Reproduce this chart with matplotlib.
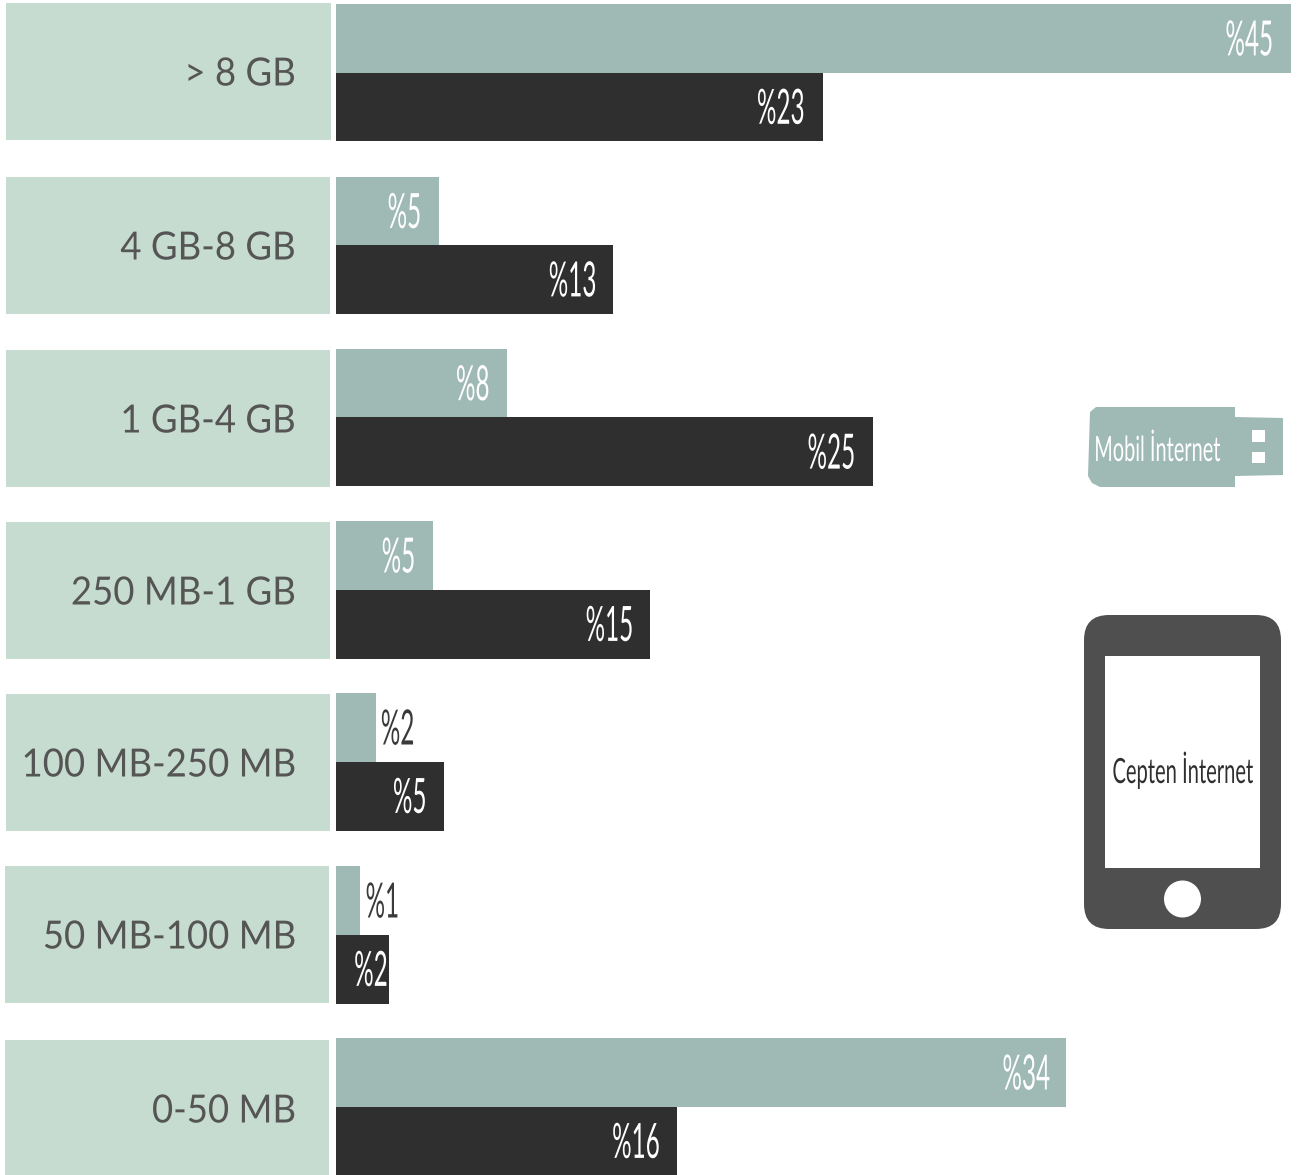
import matplotlib
matplotlib.use("Agg")
import matplotlib.pyplot as plt
from matplotlib.patches import Circle, FancyBboxPatch, Polygon, Rectangle
from matplotlib.patheffects import AbstractPathEffect
from matplotlib.transforms import Affine2D

# values
categories = ["> 8 GB", "4 GB-8 GB", "1 GB-4 GB", "250 MB-1 GB",
              "100 MB-250 MB", "50 MB-100 MB", "0-50 MB"]
mobil_values = [45.0, 4.85, 8.05, 4.57, 1.87, 1.13, 34.4]
cepten_values = [22.95, 13.05, 25.3, 14.8, 5.1, 2.5, 16.07]
mobil_labels = ["%45", "%5", "%8", "%5", "%2", "%1", "%34"]
cepten_labels = ["%23", "%13", "%25", "%15", "%5", "%2", "%16"]

LIGHT = "#C7DCD1"
MID = "#9FB9B4"
DARK = "#2F2F2F"
GREY = "#555555"
PHONE = "#4F4F4F"

W, H = 1302, 1175
BAR_LEFT = 336
PX_PER_UNIT = 21.22
ROW_TOPS = [4.2, 176.8, 349, 521.3, 693.3, 866.3, 1038.3]
BOX_TOPS = [3, 177, 350, 522, 694, 866, 1040]
BOX_LEFT = [6, 6, 6, 6, 6, 5, 5]
BOX_RIGHT = [331, 330, 330, 330, 330, 329, 329]
BAR_H = 68.4
MOBIL_PAD = [-16, -16, -16, -16, 40, 41, -15]
CEPTEN_PAD = [-17, -15, -16, -15, -16, 0, -16]


class Narrow(AbstractPathEffect):
    """Squeezes text sideways, keeping its right or centre edge in place."""

    def __init__(self, sx, anchor="right"):
        super().__init__()
        self.sx = sx
        self.anchor = anchor

    def draw_path(self, renderer, gc, tpath, affine, rgbFace=None):
        box = tpath.get_extents()
        x0 = box.x1 if self.anchor == "right" else (box.x0 + box.x1) / 2
        squeeze = Affine2D().translate(-x0, 0).scale(self.sx, 1).translate(x0, 0)
        renderer.draw_path(gc, tpath, squeeze + affine, rgbFace)


fig = plt.figure(figsize=(W / 100, H / 100), dpi=100)
plt.rcParams["font.family"] = ["Lato", "DejaVu Sans"]

# background axes in pixels, for label boxes and the two icons
bg = fig.add_axes([0, 0, 1, 1])
bg.set_xlim(0, W)
bg.set_ylim(H, 0)
bg.axis("off")

for name, top, left, right in zip(categories, BOX_TOPS, BOX_LEFT, BOX_RIGHT):
    bg.add_patch(Rectangle((left, top), right - left, 137, fc=LIGHT, ec="none"))
    bg.text(296, top + 71.5, name, ha="right", va="center", color=GREY, fontsize=28,
            path_effects=[Narrow(0.94)])

# bars
ax = fig.add_axes([BAR_LEFT / W, 0, 1 - BAR_LEFT / W, 1])
ax.patch.set_alpha(0)
ax.set_xlim(0, (W - BAR_LEFT) / PX_PER_UNIT)
ax.set_ylim(H, 0)
ax.axis("off")

mobil_tops = ROW_TOPS
cepten_tops = [t + BAR_H for t in ROW_TOPS]
ax.barh(mobil_tops, mobil_values, height=BAR_H, align="edge", color=MID)
ax.barh(cepten_tops, cepten_values, height=BAR_H + 0.5, align="edge", color=DARK)


def value_label(value, top, label, pad):
    # outside labels sit on white, so they turn dark
    color = "#3A3A3A" if pad > 0 else "white"
    ax.annotate(label, xy=(value, top + BAR_H / 2 + 3), xytext=(pad, 0),
                textcoords="offset pixels", ha="right", va="center", color=color,
                fontsize=35, path_effects=[Narrow(0.5)])


for i in range(len(categories)):
    value_label(mobil_values[i], mobil_tops[i], mobil_labels[i], MOBIL_PAD[i])
    value_label(cepten_values[i], cepten_tops[i], cepten_labels[i], CEPTEN_PAD[i])

# usb stick icon
usb = [(1090, 412), (1096, 407), (1235, 407), (1235, 417), (1283, 418), (1283, 475),
       (1235, 476), (1235, 487), (1100, 487), (1092, 483), (1088, 476)]
bg.add_patch(Polygon(usb, closed=True, fc=MID, ec="none"))
bg.add_patch(Rectangle((1252, 430), 13, 12, fc="white", ec="none"))
bg.add_patch(Rectangle((1252, 452), 13, 11, fc="white", ec="none"))
bg.text(1157, 451, "Mobil İnternet", ha="center", va="center", color="white",
        fontsize=25, path_effects=[Narrow(0.575, "center")])

# phone icon
bg.add_patch(FancyBboxPatch((1084 + 25, 615 + 25), 197 - 50, 314 - 50,
                            boxstyle="round,pad=25,rounding_size=25", fc=PHONE, ec="none"))
bg.add_patch(Rectangle((1105, 656), 155, 212, fc="white", ec="none"))
bg.add_patch(Circle((1182.5, 899), 18.5, fc="white", ec="none"))
bg.text(1183, 770, "Cepten İnternet", ha="center", va="center", color=DARK,
        fontsize=25, path_effects=[Narrow(0.58, "center")])

fig.savefig("out.png", dpi=100)
